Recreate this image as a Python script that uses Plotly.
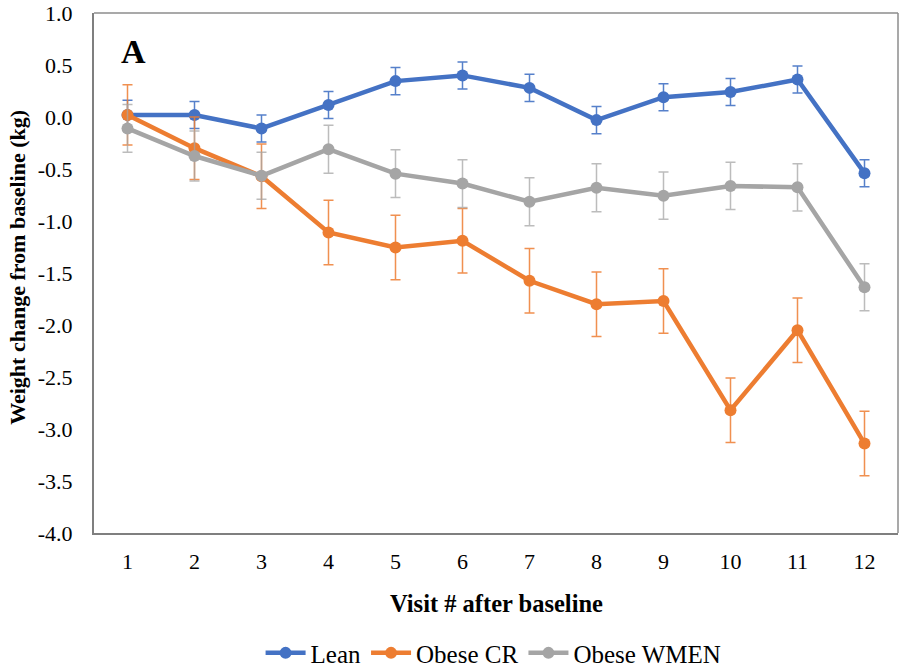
import plotly.graph_objects as go

visits = list(range(1, 13))

lean = [0.02, 0.02, -0.11, 0.115, 0.345, 0.40, 0.28, -0.03, 0.19, 0.24, 0.36, -0.54]
lean_se = [0.14, 0.13, 0.13, 0.13, 0.13, 0.13, 0.13, 0.13, 0.13, 0.13, 0.13, 0.13]

obese_cr = [0.02, -0.30, -0.57, -1.11, -1.255, -1.19, -1.575, -1.80, -1.77, -2.82, -2.05, -3.14]
obese_cr_se = [0.29, 0.30, 0.31, 0.31, 0.31, 0.31, 0.31, 0.31, 0.31, 0.31, 0.31, 0.31]

obese_wmen = [-0.11, -0.375, -0.565, -0.31, -0.545, -0.64, -0.815, -0.68, -0.757, -0.663, -0.676, -1.638]
obese_wmen_se = [0.23, 0.24, 0.225, 0.23, 0.23, 0.23, 0.23, 0.23, 0.227, 0.227, 0.227, 0.226]

y_ticks = [1.0, 0.5, 0.0, -0.5, -1.0, -1.5, -2.0, -2.5, -3.0, -3.5, -4.0]

FONT = 'Liberation Serif'

series = [
    ('Lean', lean, lean_se, '#4472C4', 'rgba(68,114,196,0.9)'),
    ('Obese CR', obese_cr, obese_cr_se, '#ED7D31', 'rgba(237,125,49,0.85)'),
    ('Obese WMEN', obese_wmen, obese_wmen_se, '#A5A5A5', 'rgba(165,165,165,0.75)'),
]

fig = go.Figure()
for name, vals, se, col, errcol in series:
    fig.add_trace(go.Scatter(
        x=visits, y=vals, name=name, mode='lines+markers',
        line=dict(color=col, width=4.5),
        marker=dict(color=col, size=12),
        error_y=dict(type='data', array=se, visible=True,
                     color=errcol, thickness=1.5, width=5),
    ))

fig.update_layout(
    width=904, height=671,
    margin=dict(l=94, r=6, t=13, b=138, autoexpand=False),
    paper_bgcolor='white', plot_bgcolor='white',
    font=dict(family=FONT, size=22, color='black'),
    showlegend=True,
    legend=dict(orientation='h', x=0.497, xanchor='center', y=-0.231, yanchor='middle',
                font=dict(family=FONT, size=25), itemwidth=40, tracegroupgap=0,
                traceorder='normal'),
    xaxis=dict(
        range=[0.5, 12.5], tickmode='array', tickvals=visits,
        showgrid=False, zeroline=False, showline=True, linecolor='#7f7f7f',
        linewidth=2, mirror=False, ticks='', ticklabelstandoff=8,
        tickfont=dict(family=FONT, size=22), automargin=False,
    ),
    yaxis=dict(
        range=[-4.0, 1.0], tickmode='array', tickvals=y_ticks,
        ticktext=[f'{v:.1f}' for v in y_ticks],
        showgrid=False, zeroline=False, showline=True, linecolor='#7f7f7f',
        linewidth=2, ticks='', ticklabelstandoff=15,
        tickfont=dict(family=FONT, size=22), automargin=False,
    ),
    shapes=[
        dict(type='line', xref='paper', yref='paper', x0=0, x1=1, y0=1, y1=1,
             line=dict(color='#8c8c8c', width=1.5)),
        dict(type='line', xref='paper', yref='paper', x0=1, x1=1, y0=0, y1=1,
             line=dict(color='#8c8c8c', width=1.5)),
    ],
    annotations=[
        dict(text='<b>A</b>', xref='paper', yref='paper', x=0.031, y=0.925,
             xanchor='left', yanchor='middle', showarrow=False,
             font=dict(family=FONT, size=34, color='black')),
        dict(text='<b>Visit # after baseline</b>', xref='paper', yref='paper',
             x=0.5, y=-0.135, xanchor='center', yanchor='middle', showarrow=False,
             font=dict(family=FONT, size=24.5, color='black')),
        dict(text='<b>Weight change from baseline (kg)</b>', xref='paper', yref='paper',
             x=-0.0945, y=0.51, xanchor='center', yanchor='middle', showarrow=False,
             textangle=-90, font=dict(family=FONT, size=22, color='black')),
    ],
)

# drop the browser's default 8px body margin so the figure fills the window
fig.write_html('out.html', config={'displayModeBar': False},
               post_script="document.body.style.margin='0';")
